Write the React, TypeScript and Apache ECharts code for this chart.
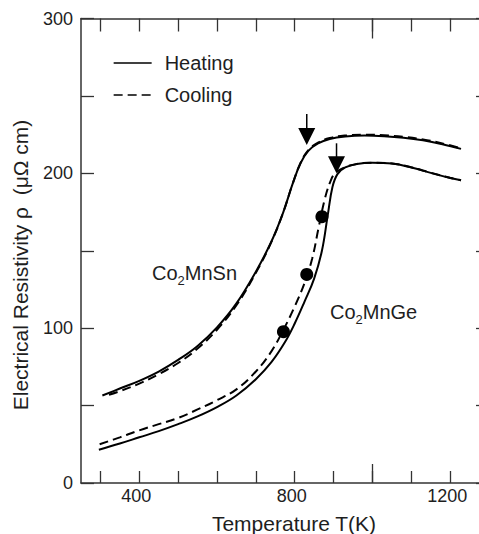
import React, { useEffect, useRef } from 'react';
import * as echarts from 'echarts';

const FONT = '"Liberation Sans", Arial, Helvetica, sans-serif';

// Axis ticks / labels
const xTicks = [300, 400, 500, 600, 700, 800, 900, 1000, 1100, 1200];
const xLongTicks = [1000];
const xLabels = [400, 800, 1200];
const yLabels = [0, 100, 200, 300];
const legendNames = ['Heating', 'Cooling'];

// Co2MnSn heating (solid)
const snHeatT = [305, 350, 400, 450, 500, 550, 600, 650, 700, 740, 770, 795, 815, 835, 860, 890, 930, 980, 1030, 1080, 1130, 1180, 1228];
const snHeatR = [56.5, 61, 66, 72, 79.5, 88.5, 100.5, 116, 136.5, 156, 174.5, 193.5, 206.5, 214.5, 219.3, 222.2, 223.8, 224.4, 224, 223, 221.3, 218.8, 215.8];

// Co2MnSn cooling (dashed)
const snCoolT = [322, 350, 400, 450, 500, 550, 600, 650, 700, 740, 770, 795, 815, 835, 860, 890, 930, 980, 1030, 1080, 1130, 1180, 1228];
const snCoolR = [57, 59.3, 64.2, 70.2, 77.5, 86.8, 99, 114.8, 135.7, 155.7, 174.5, 193.5, 206.8, 215, 219.8, 222.8, 224.4, 225, 224.6, 223.6, 221.9, 219.3, 216.2];

// Co2MnGe heating (solid)
const geHeatT = [296, 350, 400, 450, 500, 550, 600, 650, 700, 740, 775, 800, 825, 850, 870, 885, 897, 910, 930, 960, 1000, 1050, 1100, 1150, 1200, 1228];
const geHeatR = [21.5, 25.5, 29.5, 33.5, 38, 43, 49, 56.5, 67, 78, 91, 103, 117, 132, 150, 173, 191, 199.5, 203.8, 206, 206.8, 206.3, 203.8, 200.3, 197, 195.5];

// Co2MnGe cooling (dashed)
const geCoolT = [298, 350, 400, 450, 500, 550, 600, 650, 700, 740, 770, 800, 825, 845, 862, 878, 893, 905, 930, 960, 1000, 1050, 1100, 1150, 1200, 1228];
const geCoolR = [25, 29.5, 34, 38, 42, 47.5, 53.5, 60.5, 72, 85, 98.5, 114, 129, 145, 165.5, 184, 195.5, 200.3, 204, 206.1, 206.9, 206.4, 203.9, 200.4, 197.1, 195.6];

// Filled dots
const dotT = [771, 831, 870];
const dotR = [97.7, 134.7, 172];

// Arrows (temperature, top of shaft, tip)
const arrowT = [831, 907.6];
const arrowTop = [238.4, 219.4];
const arrowTip = [218.3, 200];

const zip = (xs: number[], ys: number[]) => xs.map((x, i) => [x, ys[i]]);

const AXIS_COLOR = '#333';
const TEXT_COLOR = '#1e1e1e';

export default function App() {
  const ref = useRef<HTMLDivElement>(null);

  useEffect(() => {
    if (!ref.current) return;
    const chart = echarts.init(ref.current, null, { renderer: 'svg' });

    const baseX = { type: 'value', min: 250, max: 1300, gridIndex: 0, splitLine: { show: false } };
    const tickStyle = { color: AXIS_COLOR, width: 1.3 };

    const lineBase = {
      type: 'line',
      xAxisIndex: 0,
      yAxisIndex: 0,
      smooth: 0.4,
      symbol: 'none',
      showSymbol: false,
      itemStyle: { color: '#000' },
      z: 3,
    };

    chart.setOption({
      animation: false,
      backgroundColor: '#fff',
      grid: { left: 81, top: 18.5, width: 408, height: 464.5, outerBoundsMode: 'none', containLabel: false },
      legend: {
        data: legendNames,
        orient: 'vertical',
        left: 113,
        top: 53,
        padding: 0,
        itemWidth: 38,
        itemHeight: 20,
        itemGap: 12,
        selectedMode: false,
        itemStyle: { opacity: 0 },
        lineStyle: { width: 1.3 },
        textStyle: { fontSize: 20, color: TEXT_COLOR, fontFamily: FONT, padding: [0, 0, 0, 8] },
      },
      xAxis: [
        {
          ...baseX,
          position: 'bottom',
          axisLine: { show: true, lineStyle: { color: AXIS_COLOR, width: 1.5 } },
          axisTick: { show: true, inside: true, length: 12, customValues: xTicks, lineStyle: tickStyle },
          axisLabel: {
            show: true,
            customValues: xLabels,
            formatter: (v: number) => String(v),
            fontSize: 18,
            color: TEXT_COLOR,
            fontFamily: FONT,
            margin: 4,
            padding: [0, 6, 0, 0],
          },
        },
        {
          ...baseX,
          position: 'bottom',
          axisLine: { show: false },
          axisTick: { show: true, inside: true, length: 19, customValues: xLongTicks, lineStyle: tickStyle },
          axisLabel: { show: false },
        },
        {
          ...baseX,
          position: 'top',
          axisLine: { show: true, lineStyle: { color: AXIS_COLOR, width: 1.5 } },
          axisTick: { show: true, inside: true, length: 13, customValues: xTicks, lineStyle: tickStyle },
          axisLabel: { show: false },
        },
        {
          ...baseX,
          position: 'top',
          axisLine: { show: false },
          axisTick: { show: true, inside: true, length: 20, customValues: xLongTicks, lineStyle: tickStyle },
          axisLabel: { show: false },
        },
      ],
      yAxis: [
        {
          type: 'value',
          min: 0,
          max: 300,
          interval: 50,
          position: 'left',
          splitLine: { show: false },
          axisLine: { show: true, lineStyle: { color: AXIS_COLOR, width: 1.5 } },
          axisTick: { show: true, inside: true, length: 13, lineStyle: tickStyle },
          axisLabel: {
            show: true,
            customValues: yLabels,
            formatter: (v: number) => String(v),
            fontSize: 18,
            color: TEXT_COLOR,
            fontFamily: FONT,
            margin: 8,
            padding: [7, 0, 0, 0],
          },
        },
        {
          type: 'value',
          min: 0,
          max: 300,
          interval: 50,
          position: 'right',
          splitLine: { show: false },
          axisLine: { show: true, lineStyle: { color: AXIS_COLOR, width: 1.5 } },
          axisTick: { show: true, inside: true, length: 13, lineStyle: tickStyle },
          axisLabel: { show: false },
        },
      ],
      series: [
        { ...lineBase, name: 'Heating', data: zip(snHeatT, snHeatR), lineStyle: { color: '#000', width: 2, type: 'solid' } },
        { ...lineBase, name: 'Cooling', data: zip(snCoolT, snCoolR), lineStyle: { color: '#000', width: 2, type: [9, 5] } },
        { ...lineBase, name: 'Heating', data: zip(geHeatT, geHeatR), lineStyle: { color: '#000', width: 2, type: 'solid' } },
        { ...lineBase, name: 'Cooling', data: zip(geCoolT, geCoolR), lineStyle: { color: '#000', width: 2, type: [9, 5] } },
        {
          type: 'scatter',
          name: 'points',
          xAxisIndex: 0,
          yAxisIndex: 0,
          symbol: 'circle',
          symbolSize: 13,
          itemStyle: { color: '#000', opacity: 1 },
          data: zip(dotT, dotR),
          z: 4,
        },
        {
          type: 'custom',
          name: 'arrows',
          xAxisIndex: 0,
          yAxisIndex: 0,
          z: 5,
          data: arrowT.map((t, i) => [t, arrowTop[i], arrowTip[i]]),
          encode: { x: 0, y: [1, 2] },
          renderItem: (params: any, api: any) => {
            const x = api.value(0);
            const p1 = api.coord([x, api.value(1)]);
            const p2 = api.coord([x, api.value(2)]);
            const headH = 17;
            const headW = 8.5;
            return {
              type: 'group',
              children: [
                {
                  type: 'line',
                  shape: { x1: p1[0], y1: p1[1], x2: p2[0], y2: p2[1] - headH + 2 },
                  style: { stroke: '#000', lineWidth: 1.5 },
                },
                {
                  type: 'polygon',
                  shape: { points: [[p2[0] - headW, p2[1] - headH], [p2[0] + headW, p2[1] - headH], [p2[0], p2[1]]] },
                  style: { fill: '#000' },
                },
              ],
            };
          },
        },
      ],
      graphic: [
        {
          type: 'text',
          x: 152,
          y: 273,
          style: {
            text: '{a|Co}{b|2}{a|MnSn}',
            align: 'left',
            verticalAlign: 'middle',
            rich: {
              a: { fontSize: 20, fontFamily: FONT, fill: TEXT_COLOR },
              b: { fontSize: 13, fontFamily: FONT, fill: TEXT_COLOR, padding: [14, 0, 0, 0] },
            },
          },
        },
        {
          type: 'text',
          x: 330,
          y: 312,
          style: {
            text: '{a|Co}{b|2}{a|MnGe}',
            align: 'left',
            verticalAlign: 'middle',
            rich: {
              a: { fontSize: 20, fontFamily: FONT, fill: TEXT_COLOR },
              b: { fontSize: 13, fontFamily: FONT, fill: TEXT_COLOR, padding: [14, 0, 0, 0] },
            },
          },
        },
        {
          type: 'text',
          x: 20.5,
          y: 265,
          rotation: Math.PI / 2,
          style: {
            text: 'Electrical Resistivity ρ  (μΩ cm)',
            fontSize: 21,
            fontFamily: FONT,
            fill: TEXT_COLOR,
            align: 'center',
            verticalAlign: 'middle',
          },
        },
        {
          type: 'text',
          x: 294,
          y: 523,
          style: {
            text: 'Temperature T(K)',
            fontSize: 21,
            fontFamily: FONT,
            fill: TEXT_COLOR,
            align: 'center',
            verticalAlign: 'middle',
          },
        },
      ],
    });

    return () => {
      chart.dispose();
    };
  }, []);

  return (
    <div style={{ position: 'fixed', left: 0, top: 0, width: 479, height: 534, overflow: 'hidden', background: '#fff' }}>
      <div ref={ref} style={{ width: 520, height: 534 }} />
    </div>
  );
}
